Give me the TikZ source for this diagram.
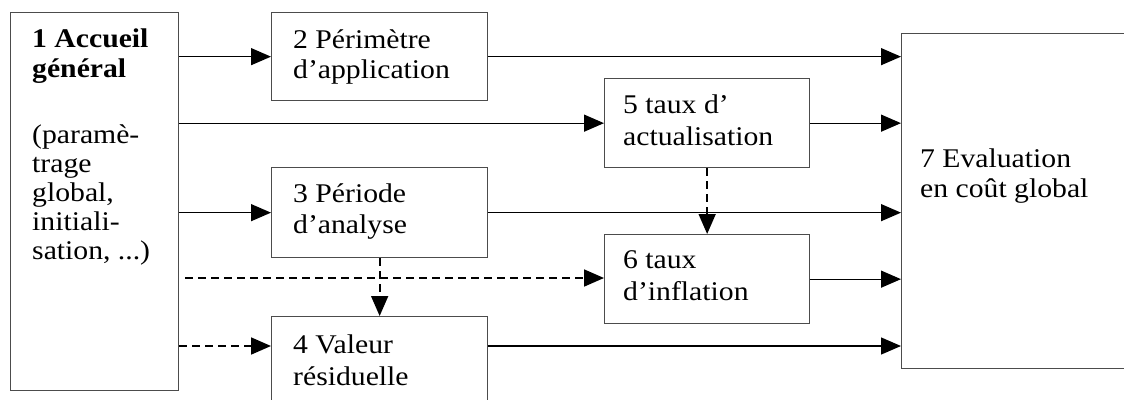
\documentclass[tikz,border=0pt]{standalone}
\usepackage{fontspec}
\setmainfont{Liberation Serif}[FakeStretch=1.1]
\usetikzlibrary{arrows.meta}
\begin{document}
\begin{tikzpicture}[x=1pt,y=-1pt,
  box/.style={draw=black!70,line width=1.3pt,inner sep=0pt,anchor=north west},
  txt/.style={anchor=base west,inner sep=0pt,font=\fontsize{27}{30}\selectfont},
  arr/.style={line width=1.3pt,-{Triangle[length=20pt,width=17pt]}},
  darr/.style={arr,line width=1.7pt,dash pattern=on 8pt off 5pt}]
\useasboundingbox (0,0) rectangle (1124,399);
\clip (0,0) rectangle (1124,399);
% boxes
\node[box,minimum width=168pt,minimum height=378pt] (b1) at (10,12) {};
\node[box,minimum width=216pt,minimum height=88pt] (b2) at (271,12) {};
\node[box,minimum width=216pt,minimum height=90pt] (b3) at (271,167) {};
\node[box,minimum width=216pt,minimum height=100pt] (b4) at (271,316) {};
\node[box,minimum width=205pt,minimum height=89pt] (b5) at (604,78) {};
\node[box,minimum width=205pt,minimum height=89pt] (b6) at (604,234) {};
\node[box,minimum width=240pt,minimum height=335pt] (b7) at (901,33) {};
\coordinate (c4) at (0,346);
\coordinate (c6) at (0,278);
% texts
\node[txt,font=\fontsize{27}{30}\selectfont\bfseries] (t1a) at (32,47) {1 Accueil};
\node[txt,font=\fontsize{27}{30}\selectfont\bfseries] (t1b) at (32,77) {général};
\node[txt] (t1c) at (32,143) {(paramè-};
\node[txt] (t1d) at (32,172) {trage};
\node[txt] (t1e) at (32,201) {global,};
\node[txt] (t1f) at (32,230) {initiali-};
\node[txt] (t1g) at (32,259) {sation, ...)};
\node[txt] (t2a) at (293,48) {2 Périmètre};
\node[txt] (t2b) at (293,78) {d’application};
\node[txt] (t3a) at (293,202) {3 Période};
\node[txt] (t3b) at (293,233) {d’analyse};
\node[txt] (t4a) at (293,353) {4 Valeur};
\node[txt] (t4b) at (293,385) {résiduelle};
\node[txt] (t5a) at (623,113) {5 taux d’};
\node[txt] (t5b) at (623,145) {actualisation};
\node[txt] (t6a) at (623,268) {6 taux};
\node[txt] (t6b) at (623,300) {d’inflation};
\node[txt] (t7a) at (920,167) {7 Evaluation};
\node[txt] (t7b) at (920,197) {en coût global};
% connectors from box 1
\draw[arr] (b1.east |- b2.west) -- (b2.west);
\draw[arr] (b1.east |- b5.west) -- (b5.west);
\draw[arr] (b1.east |- b3.west) -- (b3.west);
\draw[darr] ([xshift=6pt]b1.east |- c6) -- (b6.west |- c6);
\draw[darr] (b1.east |- c4) -- (b4.west |- c4);
% vertical dashed
\draw[darr] (b3.south) -- (b4.north);
\draw[darr] (b5.south) -- (b6.north);
% to box 7
\draw[arr] (b2.east) -- (b7.west |- b2.east);
\draw[arr] (b5.east) -- (b7.west |- b5.east);
\draw[arr] (b3.east) -- (b7.west |- b3.east);
\draw[arr] (b6.east) -- (b7.west |- b6.east);
\draw[arr] (b4.east |- c4) -- (b7.west |- c4);
\end{tikzpicture}
\end{document}
